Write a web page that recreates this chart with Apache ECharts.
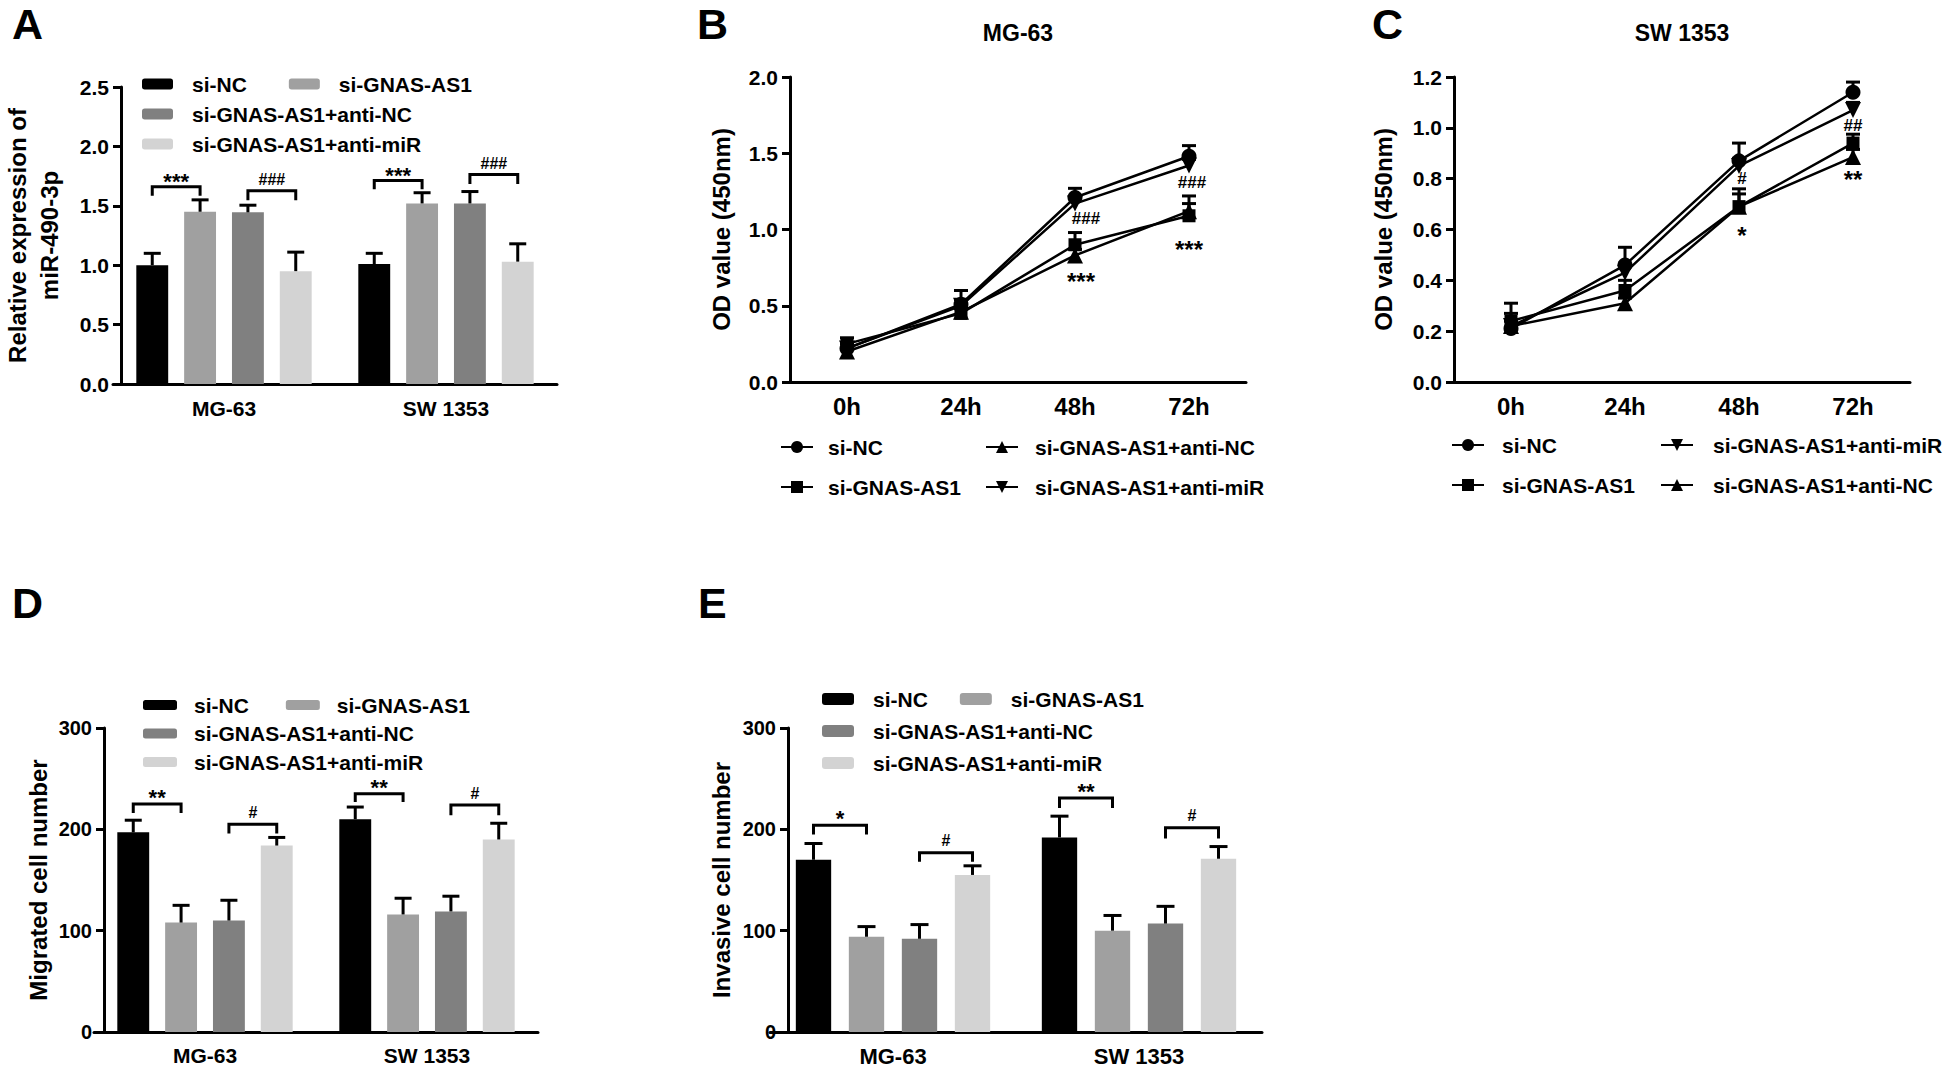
<!DOCTYPE html>
<html><head><meta charset="utf-8">
<script src="https://cdn.jsdelivr.net/npm/echarts@6/dist/echarts.min.js"></script>
<style>
html,body{margin:0;padding:0;background:#fff;}
#wrap{position:relative;width:1946px;height:1068px;background:#fff;}
.p{position:absolute;left:0;top:0;width:1946px;height:1068px;}
</style></head><body>
<div id="wrap">
<div class="p" id="cA"></div><div class="p" id="cB"></div><div class="p" id="cC"></div>
<div class="p" id="cD"></div><div class="p" id="cE"></div>
</div>
<script>
const FONT = '"Liberation Sans", Arial, Helvetica, sans-serif';
const groupNames = ['si-NC', 'si-GNAS-AS1', 'si-GNAS-AS1+anti-NC', 'si-GNAS-AS1+anti-miR'];
const barColors = ['#000000', '#a0a0a0', '#808080', '#d3d3d3'];
const cellLines = ['MG-63', 'SW 1353'];
const timePoints = ['0h', '24h', '48h', '72h'];

// Panel A: relative expression of miR-490-3p (rows: groups, cols: MG-63, SW 1353)
const aMeans = [[1.00, 1.01], [1.45, 1.52], [1.445, 1.52], [0.95, 1.03]];
const aErrs  = [[0.10, 0.09], [0.10, 0.09], [0.06, 0.10], [0.16, 0.15]];
const aBrackets = [[0, 0, 1, 1.66, 1.584, '***'], [0, 2, 3, 1.627, 1.547, '###'],
                   [1, 0, 1, 1.712, 1.64, '***'], [1, 2, 3, 1.763, 1.684, '###']];

// Panel B: MG-63 OD value (rows: groups, cols: time points)
const bMeans = [[0.22, 0.51, 1.21, 1.48], [0.25, 0.45, 0.90, 1.09], [0.20, 0.46, 0.83, 1.12], [0.22, 0.50, 1.17, 1.42]];
const bErrs  = [[0.03, 0.09, 0.06, 0.07], [0.04, 0.03, 0.08, 0.13], [0.02, 0.03, 0.04, 0.05], [0.03, 0.04, 0.04, 0.04]];
const bNotes = [[2, 1.069, '###', 11], [2, 0.697, '***', 6], [3, 1.31, '###', 3], [3, 0.905, '***', 0]];

// Panel C: SW 1353 OD value
const cMeans = [[0.21, 0.46, 0.87, 1.14], [0.24, 0.36, 0.69, 0.94], [0.22, 0.31, 0.69, 0.885], [0.22, 0.43, 0.85, 1.07]];
const cErrs  = [[0.10, 0.07, 0.07, 0.04], [0.03, 0.04, 0.07, 0.035], [0.02, 0.02, 0.05, 0.03], [0.02, 0.03, 0.03, 0.03]];
const cNotes = [[2, 0.80, '#', 3], [2, 0.60, '*', 3], [3, 1.01, '##', 0], [3, 0.82, '**', 0]];

// Panel D: migrated cell number
const dMeans = [[197, 210], [108, 116], [110, 119], [184, 190]];
const dErrs  = [[12, 12], [17, 16], [20, 15], [8, 16]];
const dBrackets = [[0, 0, 1, 225, 216, '**'], [0, 2, 3, 205, 196, '#'],
                   [1, 0, 1, 235, 227, '**'], [1, 2, 3, 224, 214, '#']];

// Panel E: invasive cell number
const eMeans = [[170, 192], [94, 100], [92, 107], [155, 171]];
const eErrs  = [[16, 21], [10, 15], [14, 17], [9, 12]];
const eBrackets = [[0, 0, 1, 204, 195, '*'], [0, 2, 3, 177, 168, '#'],
                   [1, 0, 1, 231, 221, '**'], [1, 2, 3, 201.5, 191, '#']];

function txt(size) { return {color: '#000', fontSize: size, fontWeight: 'bold', fontFamily: FONT}; }

function yAxisCfg(p) {
  return {
    type: 'value', min: 0, max: p.yMax, interval: p.yInt, offset: p.yOffset || 0,
    axisLine: {show: true, lineStyle: {color: '#000', width: 3}},
    axisTick: {show: true, length: 8, lineStyle: {color: '#000', width: 3}},
    splitLine: {show: false},
    axisLabel: Object.assign(txt(p.yLabelSize), {margin: 12, formatter: p.yFmt}),
    name: p.yName, nameLocation: 'middle', nameGap: p.nameGap, nameRotate: 90,
    nameTextStyle: Object.assign(txt(24), {lineHeight: 32})
  };
}
function xAxisCfg(p, cats) {
  return {
    type: 'category', data: cats, boundaryGap: true,
    axisLine: {lineStyle: {color: '#000', width: 3}},
    axisTick: {alignWithLabel: true, length: 8, lineStyle: {color: '#000', width: 3}},
    axisLabel: Object.assign(txt(p.xLabelSize), {margin: p.xMargin || 12})
  };
}
function legendCfg(left, top, names, gap, orient, iw, ih, pad) {
  return {
    left: left, top: top, orient: orient, data: names, itemGap: gap, padding: 0,
    itemWidth: iw, itemHeight: ih, selectedMode: false,
    textStyle: Object.assign(txt(21), {lineHeight: 24, padding: [0, 0, 0, pad]})
  };
}
function letterGraphic(ch, x, y) {
  return {type: 'text', x: x, y: y, style: {text: ch, font: 'bold 43px ' + FONT, fill: '#000', align: 'left', verticalAlign: 'top'}};
}

function barPanel(id, p) {
  const chart = echarts.init(document.getElementById(id), null, {renderer: 'svg'});
  const catGap = 0.21, barGapR = 0.5;
  function barX(api, cat, g) {
    const band = api.size([1, 0])[0];
    const bw = band * (1 - catGap) / (4 + 3 * barGapR);
    return api.coord([cat, 0])[0] - (4 * bw + 3 * bw * barGapR) / 2 + bw / 2 + g * bw * (1 + barGapR);
  }
  const series = groupNames.map((n, g) => ({
    name: n, type: 'bar', data: p.means[g], itemStyle: {color: barColors[g]},
    barCategoryGap: '21%', barGap: '50%', z: 2, silent: true
  }));
  const errData = [];
  p.means.forEach((row, g) => row.forEach((v, c) => errData.push([c, v, p.errs[g][c], g])));
  series.push({
    type: 'custom', z: 3, silent: true, data: errData,
    renderItem: (params, api) => {
      const c = api.value(0), v = api.value(1), e = api.value(2), g = api.value(3);
      const x = barX(api, c, g);
      const y0 = api.coord([c, v])[1], y1 = api.coord([c, v + e])[1];
      const cw = p.capW / 2;
      return {type: 'group', children: [
        {type: 'line', shape: {x1: x, y1: y0, x2: x, y2: y1}, style: {stroke: '#000', lineWidth: 3}},
        {type: 'line', shape: {x1: x - cw, y1: y1, x2: x + cw, y2: y1}, style: {stroke: '#000', lineWidth: 3}}
      ]};
    }
  });
  series.push({
    type: 'custom', z: 4, silent: true, data: p.brackets.map(b => [b[0], b[3], b[1], b[2], b[4]]),
    renderItem: (params, api) => {
      const b = p.brackets[params.dataIndex];
      const xL = barX(api, b[0], b[1]), xR = barX(api, b[0], b[2]);
      const yL = api.coord([b[0], b[3]])[1], yT = api.coord([b[0], b[4]])[1];
      const label = b[5];
      const star = label.indexOf('*') >= 0;
      const fs = star ? p.starSize : p.hashSize;
      const ty = yL - p.lift + (star ? 0.25 * fs : 0);
      return {type: 'group', children: [
        {type: 'polyline', shape: {points: [[xL, yT], [xL, yL], [xR, yL], [xR, yT]]}, style: {stroke: '#000', lineWidth: 3, fill: null}},
        {type: 'text', x: (xL + xR) / 2, y: ty, style: {text: label, fill: '#000', font: 'bold ' + fs + 'px ' + FONT, align: 'center', verticalAlign: 'middle'}}
      ]};
    }
  });
  chart.setOption({
    animation: false, backgroundColor: 'transparent',
    grid: {left: p.grid[0], top: p.grid[1], width: p.grid[2], height: p.grid[3], containLabel: false},
    xAxis: xAxisCfg(p, cellLines), yAxis: yAxisCfg(p),
    legend: [
      legendCfg(p.leg[0], p.leg[1], groupNames.slice(0, 2), p.leg[2], 'horizontal', p.leg[4], p.leg[5], p.leg[6]),
      legendCfg(p.leg[0], p.leg[1] + p.leg[3], groupNames.slice(2, 4), p.leg[3] - 24, 'vertical', p.leg[4], p.leg[5], p.leg[6])
    ],
    graphic: [letterGraphic(p.letter[0], p.letter[1], p.letter[2])],
    series: series
  });
}

function linePanel(id, p) {
  const chart = echarts.init(document.getElementById(id), null, {renderer: 'svg'});
  const symbols = ['circle', 'rect', 'triangle', 'triangle'];
  const rots = [0, 0, 0, 180];
  const sizes = [15, 13, 16, 16];
  const series = groupNames.map((n, g) => ({
    name: n, type: 'line', data: p.means[g], symbol: symbols[g], symbolRotate: rots[g], symbolSize: sizes[g],
    showAllSymbol: true, lineStyle: {color: '#000', width: 2.5}, itemStyle: {color: '#000'}, z: 3, silent: true
  }));
  const errData = [];
  p.means.forEach((row, g) => row.forEach((v, c) => errData.push([c, v, p.errs[g][c]])));
  series.push({
    type: 'custom', z: 2, silent: true, data: errData,
    renderItem: (params, api) => {
      const c = api.value(0), v = api.value(1), e = api.value(2);
      const x = api.coord([c, v])[0];
      const y0 = api.coord([c, v])[1], y1 = api.coord([c, v + e])[1];
      return {type: 'group', children: [
        {type: 'line', shape: {x1: x, y1: y0, x2: x, y2: y1}, style: {stroke: '#000', lineWidth: 3}},
        {type: 'line', shape: {x1: x - 7, y1: y1, x2: x + 7, y2: y1}, style: {stroke: '#000', lineWidth: 3}}
      ]};
    }
  });
  series.push({
    type: 'custom', z: 4, silent: true, data: p.notes.map(n => [n[0], n[1]]),
    renderItem: (params, api) => {
      const n = p.notes[params.dataIndex];
      const pt = api.coord([n[0], n[1]]);
      const star = n[2].indexOf('*') >= 0;
      const fs = star ? p.starSize : p.hashSize;
      return {type: 'text', x: pt[0] + n[3], y: pt[1] + (star ? 0.25 * fs : 0),
        style: {text: n[2], fill: '#000', font: 'bold ' + fs + 'px ' + FONT, align: 'center', verticalAlign: 'middle'}};
    }
  });
  const gx = p.grid[0] + p.grid[2] / 2;
  chart.setOption({
    animation: false, backgroundColor: 'transparent',
    grid: {left: p.grid[0], top: p.grid[1], width: p.grid[2], height: p.grid[3], containLabel: false},
    xAxis: xAxisCfg(p, timePoints), yAxis: yAxisCfg(p),
    legend: [
      legendCfg(p.leg1[0], p.leg1[1], p.leg1[2], 16, 'vertical', 32, 15, p.leg1[3]),
      legendCfg(p.leg2[0], p.leg2[1], p.leg2[2], 16, 'vertical', 32, 15, p.leg2[3])
    ],
    graphic: [
      letterGraphic(p.letter[0], p.letter[1], p.letter[2]),
      {type: 'text', x: gx, y: 33, style: {text: p.title, font: 'bold 23px ' + FONT, fill: '#000', align: 'center', verticalAlign: 'middle'}}
    ],
    series: series
  });
}

const fmt1 = v => v.toFixed(1);
const fmt0 = v => String(v);

barPanel('cA', {
  means: aMeans, errs: aErrs, brackets: aBrackets, grid: [97, 87, 460, 297], yOffset: -8,
  yMax: 2.5, yInt: 0.5, yFmt: fmt1, yLabelSize: 21, xLabelSize: 21, xMargin: 14,
  yName: 'Relative expression of\nmiR-490-3p', nameGap: 56, capW: 17, starSize: 22, hashSize: 16, lift: 11,
  leg: [142, 72, 42, 30, 31, 11, 14], letter: ['A', 12, 2]
});
linePanel('cB', {
  means: bMeans, errs: bErrs, notes: bNotes, grid: [790, 77, 456, 305],
  yMax: 2.0, yInt: 0.5, yFmt: fmt1, yLabelSize: 21, xLabelSize: 24, xMargin: 12,
  yName: 'OD value (450nm)', nameGap: 53, starSize: 24, hashSize: 17,
  leg1: [780, 435, [groupNames[0], groupNames[1]], 10], leg2: [985, 435, [groupNames[2], groupNames[3]], 12],
  letter: ['B', 697, 2], title: 'MG-63'
});
linePanel('cC', {
  means: cMeans, errs: cErrs, notes: cNotes, grid: [1454, 77, 456, 305],
  yMax: 1.2, yInt: 0.2, yFmt: fmt1, yLabelSize: 21, xLabelSize: 24, xMargin: 12,
  yName: 'OD value (450nm)', nameGap: 55, starSize: 24, hashSize: 17,
  leg1: [1451, 433, [groupNames[0], groupNames[1]], 13], leg2: [1660, 433, [groupNames[3], groupNames[2]], 15],
  letter: ['C', 1372, 2], title: 'SW 1353'
});
barPanel('cD', {
  means: dMeans, errs: dErrs, brackets: dBrackets, grid: [94, 728, 444, 304], yOffset: -10,
  yMax: 300, yInt: 100, yFmt: fmt0, yLabelSize: 20, xLabelSize: 21, xMargin: 13,
  yName: 'Migrated cell number', nameGap: 47, capW: 17, starSize: 22, hashSize: 16, lift: 12,
  leg: [143, 693, 37, 28.5, 34, 10, 12], letter: ['D', 12, 581]
});
barPanel('cE', {
  means: eMeans, errs: eErrs, brackets: eBrackets, grid: [770, 728, 492, 304], yOffset: -18,
  yMax: 300, yInt: 100, yFmt: fmt0, yLabelSize: 20, xLabelSize: 22, xMargin: 13,
  yName: 'Invasive cell number', nameGap: 51, capW: 18, starSize: 22, hashSize: 16, lift: 12,
  leg: [822, 687, 32, 32, 32, 12, 14], letter: ['E', 698, 581]
});
</script>
</body></html>
